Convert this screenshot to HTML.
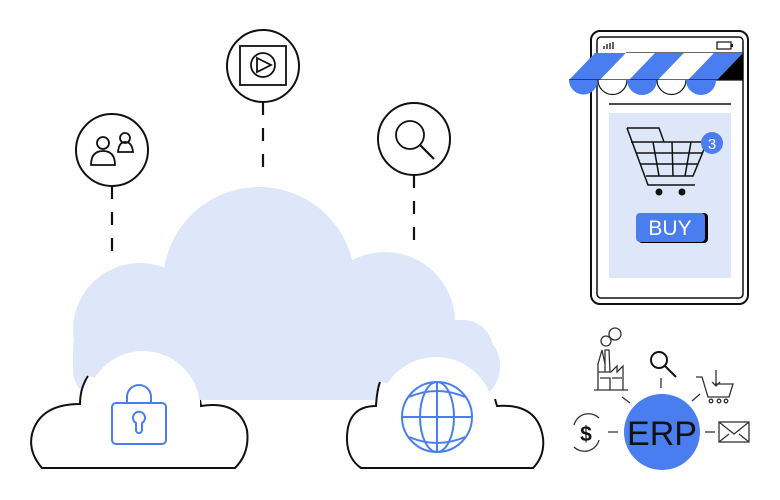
<!DOCTYPE html>
<html><head><style>html,body{margin:0;padding:0;background:#fff}svg{display:block}</style></head>
<body>
<svg width="780" height="500" viewBox="0 0 780 500" xmlns="http://www.w3.org/2000/svg" font-family="Liberation Sans, sans-serif">
<g fill="#dde7f9">
<circle cx="259" cy="283" r="96"/>
<circle cx="140" cy="330" r="67"/>
<circle cx="385" cy="322" r="70"/>
<circle cx="462" cy="366" r="38"/>
<rect x="73" y="320" width="420" height="80" rx="30"/>
<rect x="140" y="300" width="260" height="100"/>
</g>
<g stroke="#111" stroke-width="2.2" stroke-dasharray="13,13">
<line x1="112" y1="186" x2="112" y2="262"/>
<line x1="263" y1="102" x2="263" y2="178"/>
<line x1="414" y1="175" x2="414" y2="250"/>
</g>
<g fill="#fff" stroke="#111" stroke-width="2">
<circle cx="112" cy="150" r="36"/>
<circle cx="263" cy="66" r="36"/>
<circle cx="414" cy="139" r="36"/>
</g>
<g fill="none" stroke="#111" stroke-width="1.8">
<circle cx="103" cy="143" r="6"/>
<path d="M91 165 q0-14 12-14 q12 0 12 14 z"/>
<circle cx="125" cy="138" r="5"/>
<path d="M118 152 q1-10 7-10 q7 0 8 10 z"/>
<rect x="240" y="46" width="46" height="39"/>
<circle cx="263" cy="65" r="12"/>
<path d="M257 58 L271 65 L257 72 Z"/>
<circle cx="410" cy="135" r="14"/>
<line x1="420" y1="145" x2="434" y2="159" stroke-width="2.2"/>
</g>
<circle cx="143" cy="408" r="57" fill="#fff"/>
<path d="M88 376 q-8 12 -8 28 q-40 0 -48 30 q-4 18 10 34 L235 468 q15 -15 12 -38 q-8 -30 -46 -24 l-1 -6" fill="#fff" stroke="#111" stroke-width="2"/>
<rect x="90" y="400" width="110" height="66" fill="#fff"/>
<g fill="none" stroke="#4a7ef0" stroke-width="2">
<path d="M127 403 v-6 a12 12 0 0 1 24 0 v6"/>
<rect x="112" y="403" width="54" height="41" rx="4"/>
<path d="M136 423 a6 6 0 1 1 6 0 v7 a3 3 0 0 1 -6 0 z"/>
</g>
<circle cx="436" cy="415" r="58" fill="#fff"/>
<path d="M380 382 q-3 8 -4 24 q-30 0 -29 35 q1 18 14 27 L533 468 q12 -12 10 -30 q-5 -35 -46 -32 l-2 -7" fill="#fff" stroke="#111" stroke-width="2"/>
<rect x="380" y="405" width="112" height="61" fill="#fff"/>
<g fill="none" stroke="#4a7ef0" stroke-width="2">
<circle cx="437" cy="417" r="35"/>
<ellipse cx="437" cy="417" rx="17" ry="35"/>
<line x1="437" y1="382" x2="437" y2="452"/>
<line x1="402" y1="417" x2="472" y2="417"/>
<path d="M409 397 q28 -12 56 0 M409 437 q28 12 56 0"/>
</g>
<rect x="591" y="31" width="157" height="273" rx="9" fill="#fff" stroke="#111" stroke-width="2"/>
<rect x="597" y="37" width="146" height="261" rx="4" fill="#fff" stroke="#111" stroke-width="1.5"/>
<g stroke="#111" stroke-width="1.3"><line x1="604" y1="49" x2="604" y2="46"/><line x1="607" y1="49" x2="607" y2="44"/><line x1="610" y1="49" x2="610" y2="43"/><line x1="613" y1="49" x2="613" y2="42"/></g>
<rect x="717" y="42" width="14" height="7" fill="none" stroke="#111" stroke-width="1.2"/><rect x="731" y="44" width="2" height="3" fill="#111"/>
<line x1="626" y1="53" x2="743" y2="53" stroke="#111" stroke-width="1.2"/>
<polygon points="569,80 595,53 626,53 600,80" fill="#4a7ef0"/>
<polygon points="600,80 626,53 655,53 629,80" fill="#fff"/>
<polygon points="629,80 655,53 684,53 658,80" fill="#4a7ef0"/>
<polygon points="658,80 684,53 714,53 688,80" fill="#fff"/>
<polygon points="688,80 714,53 743,53 717,80" fill="#4a7ef0"/>
<polygon points="717,80 743,53 743,80" fill="#000"/>
<line x1="569" y1="80" x2="743" y2="80" stroke="#111" stroke-width="1.2"/>
<path d="M569 80 a14.5 14.5 0 0 0 29 0 z" fill="#4a7ef0"/>
<path d="M598 80 a14.5 14.5 0 0 0 29 0" fill="#fff" stroke="#111" stroke-width="1.2"/>
<path d="M627 80 a15 15 0 0 0 30 0 z" fill="#4a7ef0"/>
<path d="M657 80 a14.5 14.5 0 0 0 29 0" fill="#fff" stroke="#111" stroke-width="1.2"/>
<path d="M686 80 a15 15 0 0 0 30 0 z" fill="#4a7ef0"/>
<line x1="609" y1="104" x2="731" y2="104" stroke="#111" stroke-width="1.5"/>
<rect x="609" y="113" width="122" height="165" fill="#dde7f9"/>
<g fill="none" stroke="#111" stroke-width="1.5">
<path d="M627 128 L659 128 L664 142"/>
<path d="M627 128 L648 185 L695 185"/>
<path d="M631 142 L707 142 L693 176 L646 176"/>
<path d="M636 153 L702 153 M640 164 L698 164"/>
<path d="M653 142 L659 176 M672 142 L673 176 M691 142 L685 176"/>
</g>
<circle cx="659" cy="192" r="3.5" fill="#111"/><circle cx="682" cy="192" r="3.5" fill="#111"/>
<circle cx="712" cy="143" r="11" fill="#4a7ef0"/>
<text x="712" y="149" text-anchor="middle" font-size="15" fill="#fff">3</text>
<rect x="638" y="213" width="70" height="30" rx="4" fill="#000"/>
<rect x="636" y="213" width="69" height="29" rx="4" fill="#4a7ef0"/>
<text x="670" y="235" text-anchor="middle" font-size="21" fill="#fff">BUY</text>
<g stroke="#333" stroke-width="1.3" fill="none">
<line x1="622" y1="397" x2="630" y2="403"/>
<line x1="661" y1="378" x2="661" y2="388"/>
<line x1="692" y1="401" x2="700" y2="394"/>
<line x1="608" y1="432" x2="618" y2="432"/>
<line x1="705" y1="432" x2="715" y2="432"/>
<path d="M594 390 L628 390 M598 390 V364 L602 350 L605 364 M605 372 V350 L609 350 L610 372 M598 372 L611 372 L617 366 V372 L623 366 V390 M600 378 h10 v12 M612 378 h10"/>
<circle cx="606" cy="341" r="5"/><circle cx="615" cy="334" r="6"/>
<path d="M696 377 L702 377 L708 397 L729 397 L733 384 L715 384"/>
<path d="M716 370 v16 m-4 -4 l4 4 l4 -4"/>
<circle cx="711" cy="401" r="1.8"/><circle cx="719" cy="401" r="1.8"/><circle cx="726" cy="401" r="1.8"/>
<rect x="719" y="422" width="30" height="20"/>
<path d="M719 422 l15 12 l15 -12 M719 442 l10 -8 M749 442 l-10 -8"/>
<path d="M574 425 a15 15 0 0 1 25 -7 M599 440 a15 15 0 0 1 -25 7"/>
</g>
<g fill="none" stroke="#111" stroke-width="2"><circle cx="659" cy="360" r="8"/><line x1="665" y1="366" x2="676" y2="377"/></g>
<text x="586" y="441" text-anchor="middle" font-size="21" fill="#111" font-weight="bold">$</text>
<circle cx="662" cy="432" r="38" fill="#4a7ef0"/>
<text x="662" y="445" text-anchor="middle" font-size="34" fill="#111">ERP</text>
</svg>
</body></html>
